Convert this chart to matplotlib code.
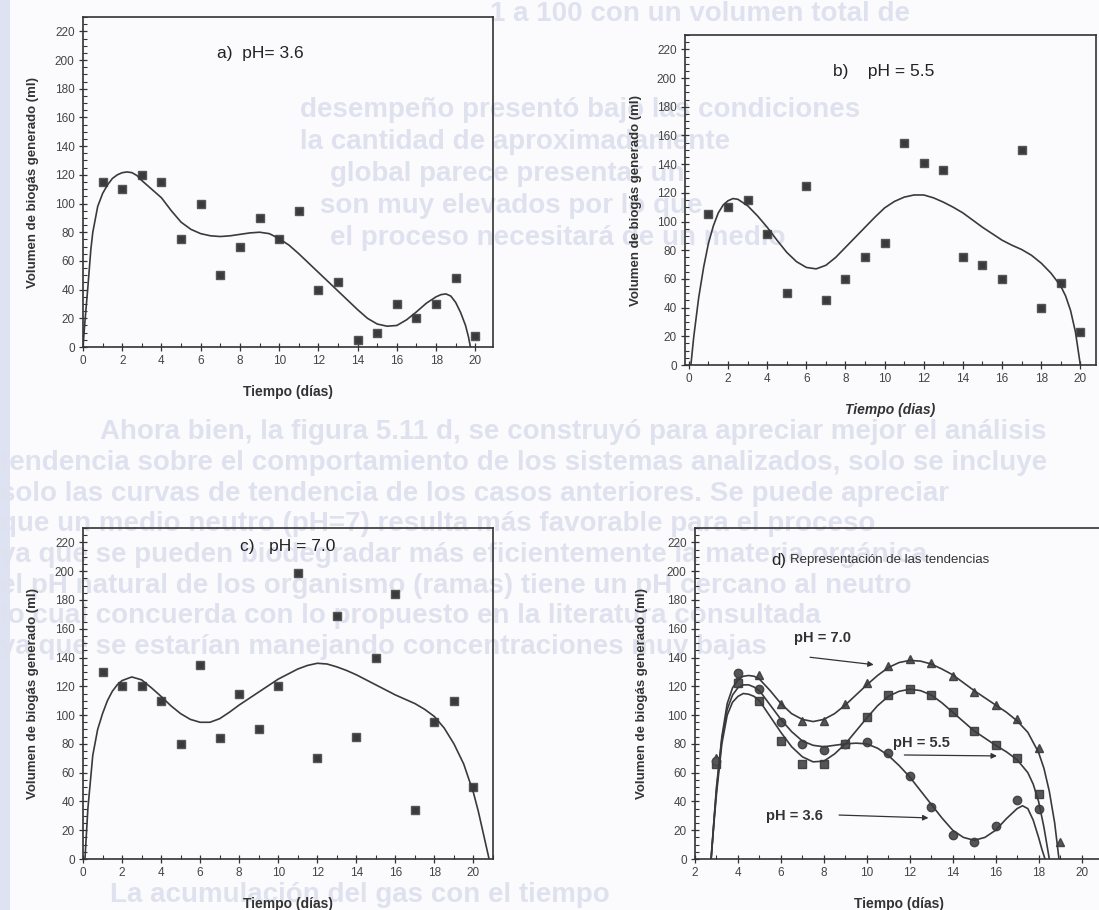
import matplotlib
matplotlib.use('Agg')
import matplotlib.pyplot as plt
from matplotlib.ticker import MultipleLocator
from matplotlib.patches import Rectangle

plt.rcParams['font.family'] = ['Liberation Sans', 'DejaVu Sans']

# ---------------- data ----------------
dias = list(range(1, 21))

# a) pH = 3.6  (measured points + fitted curve traced off the figure)
a_pts = [115, 110, 120, 115, 75, 100, 50, 70, 90, 75, 95, 40, 45, 5, 10, 30, 20, 30, 48, 8]
a_cx = [0, 0.1, 0.25, 0.4, 0.5, 0.75, 1, 1.25, 1.5, 1.75, 2, 2.25, 2.5, 2.75, 3, 3.5, 4, 4.5, 5,
        5.5, 6, 6.5, 7, 7.5, 8, 8.5, 9, 9.5, 10, 10.5, 11, 11.5, 12, 12.5, 13, 13.5, 14, 14.5,
        15, 15.5, 16, 16.5, 17, 17.5, 18, 18.25, 18.5, 18.75, 19, 19.25, 19.5, 19.65, 19.75]
a_cy = [0, 18, 42, 68, 80, 98, 107, 113, 117.5, 120, 121.5, 122, 121.5, 119.5, 116, 110, 104, 95, 87,
        82, 79, 77.5, 77, 77.5, 78.5, 79.5, 80, 79, 75.5, 71, 65, 58.5, 52, 45.5, 39, 32.5, 26, 20,
        16, 14.5, 15, 19, 24.5, 30.5, 35, 36.5, 37, 35.5, 31, 24, 15, 7, 0]

# b) pH = 5.5
b_pts = [105, 110, 115, 91, 50, 125, 45, 60, 75, 85, 155, 141, 136, 75, 70, 60, 150, 40, 57, 23]
b_cx = [0.1, 0.25, 0.5, 0.75, 1, 1.25, 1.5, 1.75, 2, 2.25, 2.5, 3, 3.5, 4, 4.5, 5, 5.5, 6, 6.5,
        7, 7.5, 8, 8.5, 9, 9.5, 10, 10.5, 11, 11.5, 12, 12.5, 13, 13.5, 14, 14.5, 15, 15.5, 16,
        16.5, 17, 17.5, 18, 18.5, 19, 19.25, 19.5, 19.75, 20]
b_cy = [0, 20, 47, 68, 85, 97, 106, 111.5, 114.5, 116, 115.5, 111, 104, 96, 87, 78.5, 72, 68, 67,
        69.5, 75, 82, 89, 96, 103, 109.5, 114, 117, 118.5, 118.5, 116.5, 113.5, 110, 106, 101, 96,
        91.5, 87, 83.5, 80.5, 76.5, 71, 64, 55, 48, 38, 23, 0]

# c) pH = 7.0
c_pts = [130, 120, 120, 110, 80, 135, 84, 115, 90, 120, 199, 70, 169, 85, 140, 184, 34, 95, 110, 50]
c_cx = [0.1, 0.25, 0.5, 0.75, 1, 1.25, 1.5, 1.75, 2, 2.5, 3, 3.5, 4, 4.5, 5, 5.5, 6, 6.5, 7, 7.5,
        8, 8.5, 9, 9.5, 10, 10.5, 11, 11.5, 12, 12.5, 13, 13.5, 14, 14.5, 15, 15.5, 16, 16.5, 17,
        17.5, 18, 18.5, 19, 19.5, 20, 20.25, 20.5, 20.7, 20.8]
c_cy = [0, 35, 72, 90, 101, 110, 116.5, 121, 124, 126.5, 124.5, 119, 113, 106.5, 101, 97, 95, 95,
        97.5, 102, 107, 111.5, 116, 120.5, 125, 128.5, 132, 134.5, 136, 135.5, 133.5, 131, 128,
        124.5, 121, 117.5, 114, 111, 108, 104, 99, 91, 80, 66, 46, 33, 18, 6, 0]

# d) tendencias: points
d_x7 = list(range(3, 20))
d_y7 = [70, 126, 128, 108, 96, 96, 108, 122, 134, 139, 136, 127, 116, 107, 97, 77, 12]
d_x55 = list(range(3, 19))
d_y55 = [66, 122, 110, 82, 66, 66, 80, 99, 114, 118, 114, 102, 89, 79, 70, 45]
d_x36 = list(range(3, 19))
d_y36 = [68, 129, 118, 95, 80, 76, 80, 81, 74, 58, 36, 17, 12, 23, 41, 35]

# d) tendencias: curves
t7_x = [2.75, 2.9, 3, 3.25, 3.5, 3.75, 4, 4.25, 4.5, 4.75, 5, 5.5, 6, 6.5, 7, 7.5, 8, 8.5, 9,
        9.5, 10, 10.5, 11, 11.5, 12, 12.5, 13, 13.5, 14, 14.5, 15, 15.5, 16, 16.5, 17, 17.5, 18,
        18.25, 18.5, 18.75, 18.95]
t7_y = [0, 30, 50, 85, 108, 119, 124.5, 127, 127.5, 127, 125, 117, 108, 101, 97, 95.5, 97, 101,
        107, 114, 121, 127.5, 133, 136.5, 138, 137.5, 135.5, 132, 128, 122.5, 117, 112, 107, 102,
        96, 88, 74, 63, 47, 25, 0]
t55_x = [2.75, 2.9, 3, 3.25, 3.5, 3.75, 4, 4.25, 4.5, 4.75, 5, 5.5, 6, 6.5, 7, 7.5, 8, 8.5, 9,
         9.5, 10, 10.5, 11, 11.5, 12, 12.5, 13, 13.5, 14, 14.5, 15, 15.5, 16, 16.5, 17, 17.5,
         17.75, 18, 18.25, 18.5]
t55_y = [0, 28, 45, 80, 100, 109, 113, 115, 114.5, 113, 110, 99, 88, 78, 71, 67.5, 68, 73, 80,
         89, 98, 106.5, 113, 116.5, 118, 117, 114, 108.5, 102, 95.5, 89, 84, 79, 74.5, 69, 60,
         52, 40, 22, 0]
t36_x = [2.75, 2.9, 3, 3.25, 3.5, 3.75, 4, 4.25, 4.5, 4.75, 5, 5.5, 6, 6.5, 7, 7.5, 8, 8.5, 9,
         9.5, 10, 10.5, 11, 11.5, 12, 12.5, 13, 13.5, 14, 14.5, 15, 15.5, 16, 16.5, 17, 17.25,
         17.5, 17.75, 18, 18.15, 18.3]
t36_y = [0, 30, 48, 83, 104, 114, 119, 121, 121, 119.5, 117, 107, 97, 88.5, 82, 79, 78, 79, 80,
         80.5, 80, 77, 72, 65, 57, 47.5, 38, 28.5, 20, 15, 13, 15, 20, 28, 35, 37, 35, 27, 15, 7, 0]

ylabel = 'Volumen de biogás generado (ml)'

# faded text of the scanned page behind the charts (x px, y px, text)
page_lines = [
    (490, 14, '1 a 100 con un volumen total de'),
    (300, 110, 'desempeño presentó bajo las condiciones'),
    (300, 142, 'la cantidad de aproximadamente'),
    (330, 174, 'global parece presentar un'),
    (320, 206, 'son muy elevados por lo que'),
    (330, 238, 'el proceso necesitará de un medio'),
    (100, 432, 'Ahora bien, la figura 5.11 d, se construyó para apreciar mejor el análisis'),
    (0, 463, 'tendencia sobre el comportamiento de los sistemas analizados, solo se incluye'),
    (0, 494, 'solo las curvas de tendencia de los casos anteriores. Se puede apreciar'),
    (0, 524, 'que un medio neutro (pH=7) resulta más favorable para el proceso'),
    (0, 555, 'ya que se pueden biodegradar más eficientemente la materia orgánica'),
    (0, 586, 'el pH natural de los organismo (ramas) tiene un pH cercano al neutro'),
    (0, 616, 'lo cual concuerda con lo propuesto en la literatura consultada'),
    (0, 647, 'ya que se estarían manejando concentraciones muy bajas'),
    (110, 895, 'La acumulación del gas con el tiempo'),
]

W, H = 1099, 910
fig = plt.figure(figsize=(W / 100, H / 100), dpi=100)
fig.patch.set_facecolor('#fbfbfd')
fig.patches.append(Rectangle((0, 0), 10 / W, 1, transform=fig.transFigure,
                             facecolor='#dde3f2', edgecolor='none', zorder=-10))
for px, py, txt in page_lines:
    fig.text(px / W, 1 - py / H, txt, fontsize=20, color='#dfe2ee', fontweight='bold',
             ha='left', va='center', zorder=-5,
             family=['Liberation Sans Narrow', 'Liberation Sans', 'DejaVu Sans'])

ink = '#333333'


def px_axes(left, top, right, bottom):
    return fig.add_axes([left / W, 1 - bottom / H, (right - left) / W, (bottom - top) / H])


def style(ax, xlim, xlabel, italic=False, ylab_x=-0.11, xlab_y=-0.115):
    ax.set_facecolor('none')
    ax.set_xlim(*xlim)
    ax.set_ylim(0, 230)
    ax.xaxis.set_major_locator(MultipleLocator(2))
    ax.xaxis.set_minor_locator(MultipleLocator(1))
    ax.yaxis.set_major_locator(MultipleLocator(20))
    ax.yaxis.set_minor_locator(MultipleLocator(5))
    ax.tick_params(which='major', direction='inout', length=6, width=0.9, color=ink,
                   labelsize=8.5, labelcolor='#444444', pad=3)
    ax.tick_params(which='minor', direction='in', length=3, width=0.8, color=ink)
    for s in ax.spines.values():
        s.set_linewidth(1.2)
        s.set_color(ink)
    ax.set_ylabel(ylabel, fontsize=9.5, fontweight='bold', color='#333333')
    ax.yaxis.set_label_coords(ylab_x, 0.5)
    ax.set_xlabel(xlabel, fontsize=10, fontweight='bold', color='#333333',
                  style='italic' if italic else 'normal')
    ax.xaxis.set_label_coords(0.5, xlab_y)


def scatter_panel(ax, pts, cx, cy):
    ax.plot(dias, pts, linestyle='none', marker='s', markersize=5.5,
            color='#3a3a3a', markeredgecolor='#555555')
    ax.plot(cx, cy, color='#3a3a3a', linewidth=1.2)


# a)
ax = px_axes(83, 17, 493, 347)
scatter_panel(ax, a_pts, a_cx, a_cy)
style(ax, (0, 20.9), 'Tiempo (días)', ylab_x=-0.108)
ax.text(0.327, 0.89, 'a)  pH= 3.6', transform=ax.transAxes, fontsize=12.5,
        color='#222222', va='center')

# b)
ax = px_axes(685, 35, 1096, 365)
scatter_panel(ax, b_pts, b_cx, b_cy)
style(ax, (-0.2, 20.8), 'Tiempo (dias)', italic=True, ylab_x=-0.105)
ax.text(0.36, 0.888, 'b)    pH = 5.5', transform=ax.transAxes, fontsize=12.5,
        color='#222222', va='center')

# c)
ax = px_axes(83, 528, 493, 859)
scatter_panel(ax, c_pts, c_cx, c_cy)
style(ax, (0, 21.0), 'Tiempo (días)', ylab_x=-0.108)
ax.text(0.384, 0.943, 'c)   pH = 7.0', transform=ax.transAxes, fontsize=12.5,
        color='#222222', va='center')

# d)
ax = px_axes(695, 528, 1103, 859)
mk = dict(linestyle='none', markersize=6, color='#555555', markeredgecolor='#444444')
ax.plot(d_x7, d_y7, marker='^', **mk)
ax.plot(d_x55, d_y55, marker='s', **mk)
ax.plot(d_x36, d_y36, marker='o', **mk)
for tx, ty in [(t7_x, t7_y), (t55_x, t55_y), (t36_x, t36_y)]:
    ax.plot(tx, ty, color='#3a3a3a', linewidth=1.2)
style(ax, (2, 21.0), 'Tiempo (días)', ylab_x=-0.115)
ax.text(0.187, 0.903, 'd)', transform=ax.transAxes, fontsize=12, color='#222222', va='center')
ax.text(0.232, 0.903, 'Representación de las tendencias', transform=ax.transAxes,
        fontsize=9.5, color='#333333', va='center')

arrow = dict(arrowstyle='-|>', color='#333333', lw=0.9, mutation_scale=8)
ax.annotate('', xy=(10.45, 134.8), xytext=(7.23, 140.4), arrowprops=arrow)
ax.annotate('', xy=(16.19, 71.6), xytext=(11.62, 72.3), arrowprops=arrow)
ax.annotate('', xy=(13.0, 28.5), xytext=(8.58, 30.6), arrowprops=arrow)
ax.text(6.62, 153.6, 'pH = 7.0', fontsize=10.5, fontweight='bold', color='#333333', va='center')
ax.text(11.24, 80.6, 'pH = 5.5', fontsize=10.5, fontweight='bold', color='#333333', va='center')
ax.text(5.31, 29.9, 'pH = 3.6', fontsize=10.5, fontweight='bold', color='#333333', va='center')

fig.savefig('out.png', dpi=100, facecolor=fig.get_facecolor())
